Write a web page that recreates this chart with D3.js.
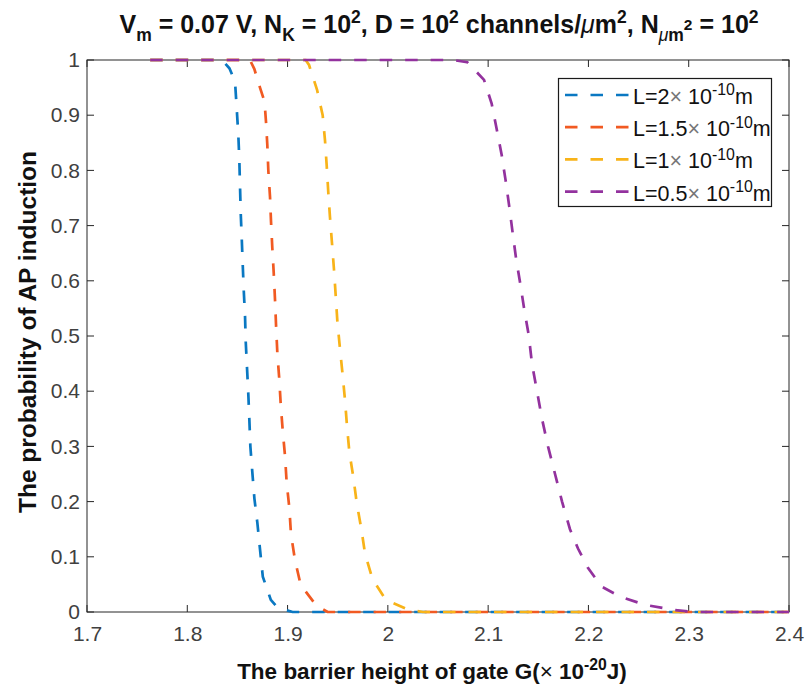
<!DOCTYPE html>
<html>
<head>
<meta charset="utf-8">
<script src="https://cdn.jsdelivr.net/npm/d3@7"></script>
<style>
  html, body { margin: 0; padding: 0; background: #fff; }
  svg { display: block; font-family: "Liberation Sans", Arial, Helvetica, sans-serif; }
</style>
</head>
<body>
<svg id="chart" width="808" height="688"></svg>
<script>
// Barrier height of gate G (×10^-20 J) against probability of AP induction
const xTicks = [1.7, 1.8, 1.9, 2.0, 2.1, 2.2, 2.3, 2.4];
const xTickLabels = ["1.7", "1.8", "1.9", "2", "2.1", "2.2", "2.3", "2.4"];
const yTicks = [0, 0.1, 0.2, 0.3, 0.4, 0.5, 0.6, 0.7, 0.8, 0.9, 1];
const yTickLabels = ["0", "0.1", "0.2", "0.3", "0.4", "0.5", "0.6", "0.7", "0.8", "0.9", "1"];

const seriesNames = ["2", "1.5", "1", "0.5"];
const seriesColors = ["#0a78c2", "#f15a22", "#f8b319", "#93329e"];

// L = 2 × 10^-10 m
const gL2 = [1.763, 1.80, 1.832, 1.8367, 1.842, 1.8476, 1.8493, 1.8509, 1.8519, 1.8526, 1.8533, 1.8543, 1.8553, 1.8563, 1.8576, 1.8583, 1.8596, 1.8609, 1.8619, 1.8629, 1.8649, 1.8669, 1.8699, 1.8726, 1.8753, 1.8833, 1.890, 1.905, 2.0, 2.2, 2.4];
const pL2 = [1, 1, 1, 0.996, 0.985, 0.961, 0.912, 0.864, 0.819, 0.77, 0.722, 0.677, 0.629, 0.583, 0.535, 0.489, 0.441, 0.393, 0.348, 0.30, 0.252, 0.206, 0.161, 0.112, 0.064, 0.022, 0.008, 0, 0, 0, 0];

// L = 1.5 × 10^-10 m
const gL15 = [1.763, 1.80, 1.8625, 1.8668, 1.8725, 1.877, 1.8785, 1.8798, 1.8808, 1.8825, 1.8835, 1.8848, 1.8862, 1.8875, 1.8885, 1.8898, 1.8918, 1.8932, 1.8952, 1.8975, 1.8991, 1.9018, 1.9034, 1.9074, 1.9131, 1.929, 1.940, 2.0, 2.2, 2.4];
const pL15 = [1, 1, 1, 0.984, 0.95, 0.925, 0.888, 0.846, 0.80, 0.752, 0.707, 0.659, 0.614, 0.565, 0.52, 0.469, 0.42, 0.375, 0.328, 0.282, 0.234, 0.188, 0.141, 0.094, 0.049, 0.011, 0, 0, 0, 0];

// L = 1 × 10^-10 m
const gL1 = [1.763, 1.85, 1.918, 1.9214, 1.9294, 1.935, 1.9373, 1.939, 1.9406, 1.9423, 1.9443, 1.9463, 1.948, 1.9496, 1.9523, 1.955, 1.9573, 1.9593, 1.9616, 1.9656, 1.969, 1.9736, 1.9773, 1.9846, 1.9979, 2.0204, 2.035, 2.2, 2.4];
const pL1 = [1, 1, 1, 0.991, 0.946, 0.90, 0.855, 0.809, 0.76, 0.715, 0.668, 0.62, 0.573, 0.528, 0.476, 0.428, 0.383, 0.336, 0.29, 0.244, 0.197, 0.15, 0.105, 0.06, 0.022, 0.004, 0, 0, 0];

// L = 0.5 × 10^-10 m
const gL05 = [1.763, 1.90, 2.0, 2.065, 2.0792, 2.0959, 2.1035, 2.1085, 2.1135, 2.1175, 2.1211, 2.1245, 2.1278, 2.1321, 2.1361, 2.1405, 2.1437, 2.1487, 2.1537, 2.1597, 2.1667, 2.1737, 2.1816, 2.1896, 2.1995, 2.2132, 2.2315, 2.2564, 2.2843, 2.3043, 2.4];
const pL05 = [1, 1, 1, 1, 0.996, 0.964, 0.921, 0.875, 0.828, 0.781, 0.734, 0.686, 0.641, 0.594, 0.547, 0.501, 0.45, 0.40, 0.35, 0.30, 0.25, 0.20, 0.15, 0.115, 0.08, 0.046, 0.028, 0.013, 0.004, 0, 0];

const seriesX = [gL2, gL15, gL1, gL05];
const seriesY = [pL2, pL15, pL1, pL05];

const svg = d3.select("#chart");
const axisColor = "#262626";
const tickTextColor = "#404040";
const plot = { left: 87, right: 789, top: 60, bottom: 612 };

const x = d3.scaleLinear().domain([1.7, 2.4]).range([plot.left, plot.right]);
const y = d3.scaleLinear().domain([0, 1]).range([plot.bottom, plot.top]);

// rich text helper: parts are [text, kind, opts]; kind: 0 normal, "sup", "sub", "subsup"
function rich(textSel, parts, base, supScale) {
  supScale = supScale || 0.7;
  let cur = 0;
  parts.forEach(([t, kind, opts]) => {
    opts = opts || {};
    let off = 0, size = base;
    if (kind === "sup") { off = -0.40 * base; size = supScale * base; }
    else if (kind === "sub") { off = 0.30 * base; size = supScale * base; }
    else if (kind === "subsup") { off = -0.12 * base; size = 0.62 * base; }
    const ts = textSel.append("tspan")
      .attr("dy", off - cur)
      .attr("font-size", size)
      .text(t);
    if (opts.style) ts.attr("font-style", opts.style);
    if (opts.weight) ts.attr("font-weight", opts.weight);
    if (opts.fill) ts.attr("fill", opts.fill);
    if (opts.dx) ts.attr("dx", opts.dx);
    cur = off;
  });
}

// axes box
svg.append("rect")
  .attr("x", plot.left).attr("y", plot.top)
  .attr("width", plot.right - plot.left).attr("height", plot.bottom - plot.top)
  .attr("fill", "none").attr("stroke", axisColor).attr("stroke-width", 1);

const tickLen = 7;
const xAxisBottom = d3.axisBottom(x).tickValues(xTicks).tickSize(0)
  .tickFormat((d, i) => xTickLabels[i]).tickPadding(14);
const gx = svg.append("g").attr("transform", `translate(0,${plot.bottom})`).call(xAxisBottom);
gx.select(".domain").remove();
gx.selectAll("text").attr("font-size", 21).attr("fill", tickTextColor)
  .attr("font-family", "Liberation Sans, Arial, sans-serif");

const yAxisLeft = d3.axisLeft(y).tickValues(yTicks).tickSize(0)
  .tickFormat((d, i) => yTickLabels[i]).tickPadding(7);
const gy = svg.append("g").attr("transform", `translate(${plot.left},0)`).call(yAxisLeft);
gy.select(".domain").remove();
gy.selectAll("text").attr("font-size", 21).attr("fill", tickTextColor)
  .attr("font-family", "Liberation Sans, Arial, sans-serif");

// inward ticks on all four sides
const ticks = svg.append("g").attr("stroke", axisColor).attr("stroke-width", 1);
xTicks.forEach(v => {
  ticks.append("line").attr("x1", x(v)).attr("x2", x(v)).attr("y1", plot.bottom).attr("y2", plot.bottom - tickLen);
  ticks.append("line").attr("x1", x(v)).attr("x2", x(v)).attr("y1", plot.top).attr("y2", plot.top + tickLen);
});
yTicks.forEach(v => {
  ticks.append("line").attr("x1", plot.left).attr("x2", plot.left + tickLen).attr("y1", y(v)).attr("y2", y(v));
  ticks.append("line").attr("x1", plot.right).attr("x2", plot.right - tickLen).attr("y1", y(v)).attr("y2", y(v));
});

// curves
const line = d3.line().x(d => x(d[0])).y(d => y(d[1]));
const curves = svg.append("g");
seriesX.forEach((xs, i) => {
  const pts = xs.map((g, j) => [g, seriesY[i][j]]);
  curves.append("path")
    .attr("d", line(pts))
    .attr("fill", "none")
    .attr("stroke", seriesColors[i])
    .attr("stroke-width", 2.7)
    .attr("stroke-dasharray", "12.5,13");
});

// legend
const lg = svg.append("g");
lg.append("rect").attr("x", 558.5).attr("y", 78.5).attr("width", 213).attr("height", 128)
  .attr("fill", "#fff").attr("stroke", "#1a1a1a").attr("stroke-width", 1.2);
seriesNames.forEach((name, i) => {
  const ry = 95 + i * 32.2;
  lg.append("line").attr("x1", 565).attr("x2", 628.5).attr("y1", ry).attr("y2", ry)
    .attr("stroke", seriesColors[i]).attr("stroke-width", 2.7).attr("stroke-dasharray", "12.5,13");
  const t = lg.append("text").attr("x", 633).attr("y", ry + 9).attr("fill", "#111");
  rich(t, [
    ["L=" + name, 0],
    ["\u00d7", 0, { fill: "#777" }],
    [" 10", 0],
    ["-10", "sup"],
    ["m", 0]
  ], 21.5, 0.74);
});

// title
const title = svg.append("text").attr("x", (plot.left + plot.right) / 2 + 1).attr("y", 33)
  .attr("text-anchor", "middle").attr("font-weight", "bold").attr("fill", "#111");
rich(title, [
  ["V", 0], ["m", "sub"], [" = 0.07 V, N", 0], ["K", "sub"], [" = 10", 0], ["2", "sup"],
  [", D = 10", 0], ["2", "sup"], [" channels/", 0], ["\u03bc", 0, { style: "italic", weight: "normal" }],
  ["m", 0], ["2", "sup"], [", N", 0], ["\u03bc", "sub", { style: "italic", weight: "normal" }], ["m", "sub"],
  ["2", "subsup"], [" = 10", 0], ["2", "sup"]
], 25);

// axis labels
const xl = svg.append("text").attr("x", (plot.left + plot.right) / 2 - 6).attr("y", 679)
  .attr("text-anchor", "middle").attr("font-weight", "bold").attr("fill", "#111");
rich(xl, [
  ["The barrier height of gate G(", 0],
  ["\u00d7", 0, { weight: "normal" }],
  [" 10", 0], ["-20", "sup"], ["J)", 0]
], 22.5);

svg.append("text")
  .attr("transform", `translate(36,${(plot.top + plot.bottom) / 2 - 4}) rotate(-90)`)
  .attr("text-anchor", "middle").attr("font-weight", "bold").attr("fill", "#111")
  .attr("font-size", 24.5)
  .text("The probability of AP induction");
</script>
</body>
</html>
